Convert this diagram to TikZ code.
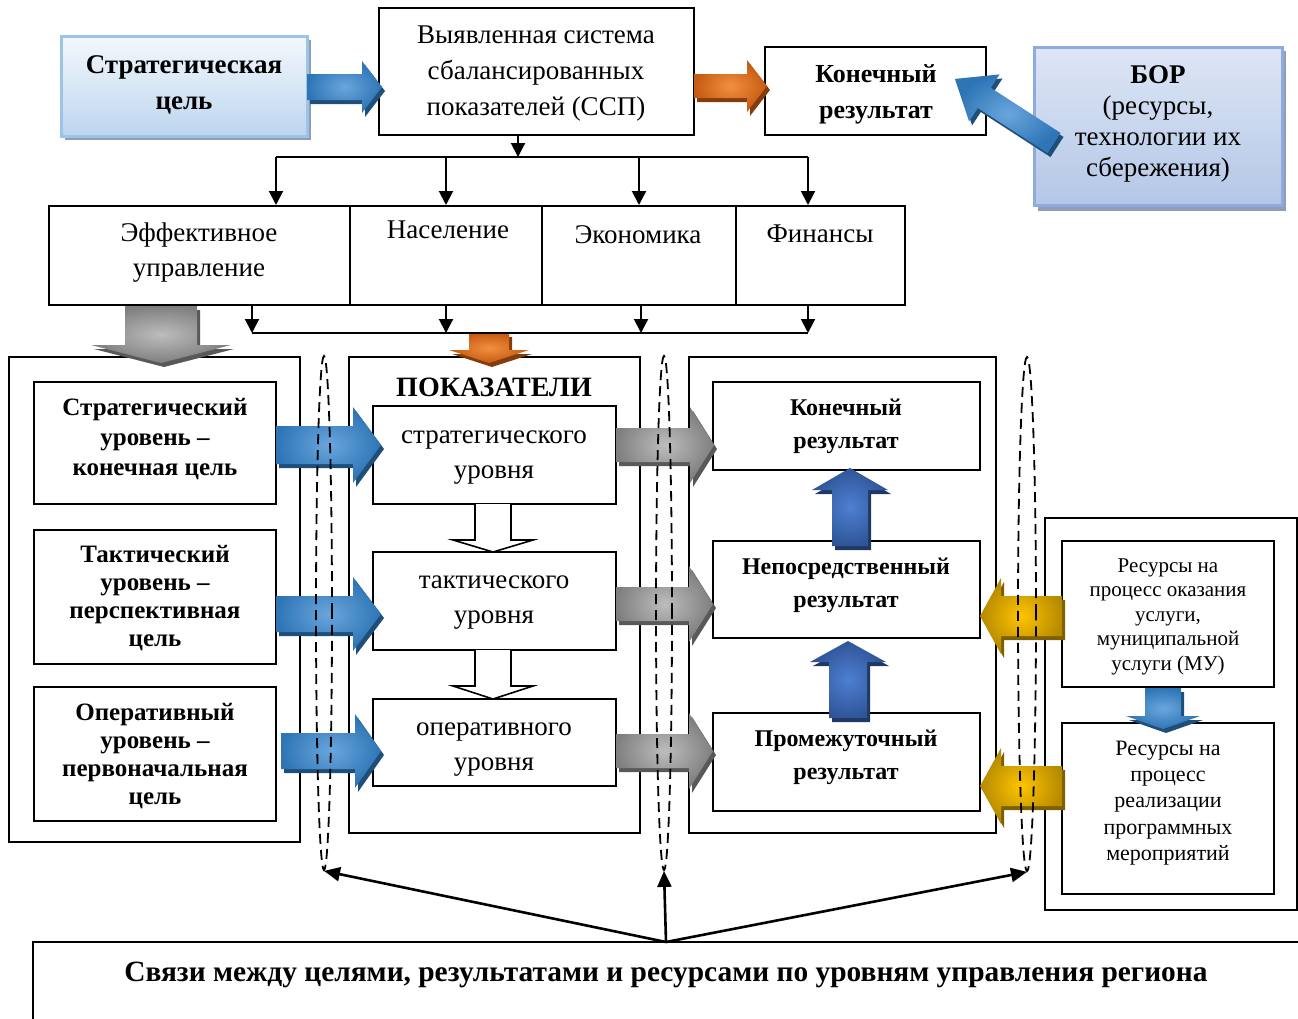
\documentclass[tikz,border=0pt]{standalone}
\usepackage{fontspec}
\setmainfont{Liberation Serif}
\usetikzlibrary{arrows.meta,shapes.geometric}

\definecolor{blueA}{HTML}{2E75B6}
\definecolor{blueB}{HTML}{6AA6DD}
\definecolor{blueS}{HTML}{1F4E79}
\definecolor{orangeA}{HTML}{C55A11}
\definecolor{orangeB}{HTML}{F2903F}
\definecolor{orangeS}{HTML}{843C0C}
\definecolor{grayA}{HTML}{7F7F7F}
\definecolor{grayB}{HTML}{BDBDBD}
\definecolor{grayS}{HTML}{595959}
\definecolor{goldA}{HTML}{B58A00}
\definecolor{goldB}{HTML}{FFC400}
\definecolor{goldS}{HTML}{7F6000}
\definecolor{navyA}{HTML}{2F5597}
\definecolor{navyB}{HTML}{4E7FD3}
\definecolor{navyS}{HTML}{203864}
\definecolor{paleTop}{HTML}{F4F8FD}
\definecolor{paleBot}{HTML}{BDD5EE}
\definecolor{paleLine}{HTML}{9DC3E6}
\definecolor{borTop}{HTML}{DDE6F5}
\definecolor{borBot}{HTML}{B4C7E7}
\definecolor{borLine}{HTML}{8FAADC}
\definecolor{dropsh}{HTML}{8E9DB8}

% block arrow: shade style, shadow colour, tail, angle, length, head length, shaft half width, head half width
\newcommand{\blockarrow}[8]{%
  \begin{scope}[shift={#3}]
    \fill[#2, shift={(3,4)}, rotate=#4] (0,-#7) -- (#5-#6,-#7) -- (#5-#6,-#8) -- (#5,0) -- (#5-#6,#8) -- (#5-#6,#7) -- (0,#7) -- cycle;
    \shade[#1, rotate=#4] (0,-#7) -- (#5-#6,-#7) -- (#5-#6,-#8) -- (#5,0) -- (#5-#6,#8) -- (#5-#6,#7) -- (0,#7) -- cycle;
  \end{scope}}

\begin{document}
\begin{tikzpicture}[x=1pt,y=1pt,yscale=-1,xscale=1,
  box/.style={draw, line width=2pt, inner sep=0pt},
  colframe/.style={draw, line width=1.6pt, inner sep=0pt},
  lbl/.style={align=center, inner sep=0pt},
  reg/.style={lbl, font=\fontsize{27}{35}\selectfont},
  bld/.style={lbl, font=\bfseries\fontsize{26}{36}\selectfont},
  conn/.style={line width=2pt, -{Triangle[length=14pt,width=14pt]}},
  link/.style={line width=2.6pt, -{Triangle[length=16pt,width=14pt]}},
  ring/.style={draw, ellipse, dash pattern=on 10pt off 6pt, line width=1.8pt, inner sep=0pt, minimum width=16pt, minimum height=514pt},
  hollow/.style={draw, line width=1.6pt, fill=white},
  blueshade/.style={inner color=blueB, outer color=blueA},
  orangeshade/.style={inner color=orangeB, outer color=orangeA},
  grayshade/.style={inner color=grayB, outer color=grayA},
  goldshade/.style={inner color=goldB, outer color=goldA},
  navyshade/.style={inner color=navyB, outer color=navyA}]
\useasboundingbox (0,0) rectangle (1298,1018);

%Shape: Rectangle (top row)
\fill[dropsh] (65,40) rectangle (311,140);
\node[box, draw=paleLine, line width=3pt, top color=paleTop, bottom color=paleBot, minimum width=246pt, minimum height=100pt] (goal) at (184,86) {};
\node[box, minimum width=315pt, minimum height=127pt] (ssp) at (536.5,71.5) {};
\node[box, minimum width=221pt, minimum height=88pt] (finTop) at (875.5,91) {};
\fill[dropsh] (1038,51) rectangle (1286,211);
\node[box, draw=borLine, line width=3pt, top color=borTop, bottom color=borBot, minimum width=248pt, minimum height=158pt] (bor) at (1158,126) {};

%Shape: Rectangle (four areas)
\node[box, minimum width=301pt, minimum height=99pt] (eff) at (199.5,255.5) {};
\node[box, minimum width=192pt, minimum height=99pt] (pop) at (446,255.5) {};
\node[box, minimum width=194pt, minimum height=99pt] (econ) at (639,255.5) {};
\node[box, minimum width=169pt, minimum height=99pt] (fins) at (820.5,255.5) {};

%Shape: Rectangle (columns)
\node[colframe, minimum width=291pt, minimum height=485pt] (goalCol) at (154.5,599.5) {};
\node[colframe, minimum width=291pt, minimum height=476pt] (indCol) at (494.5,595) {};
\node[colframe, minimum width=307pt, minimum height=476pt] (resCol) at (842.5,595) {};
\node[colframe, minimum width=252pt, minimum height=392pt] (rsrcCol) at (1171,714) {};

\node[box, minimum width=242pt, minimum height=122pt] (lvlS) at (155,443) {};
\node[box, minimum width=242pt, minimum height=134pt] (lvlT) at (155,597) {};
\node[box, minimum width=242pt, minimum height=134pt] (lvlO) at (155,754) {};

\node[box, minimum width=243pt, minimum height=98pt] (indS) at (494.5,455) {};
\node[box, minimum width=243pt, minimum height=98pt] (indT) at (494.5,601) {};
\node[box, minimum width=243pt, minimum height=87pt] (indO) at (494.5,742.5) {};

\node[box, minimum width=267pt, minimum height=88pt] (resF) at (846.5,426) {};
\node[box, minimum width=267pt, minimum height=97pt] (resI) at (846.5,589.5) {};
\node[box, minimum width=267pt, minimum height=98pt] (resM) at (846.5,762) {};

\node[box, minimum width=212pt, minimum height=146pt] (rsrcA) at (1168,614) {};
\node[box, minimum width=212pt, minimum height=171pt] (rsrcB) at (1168,808.5) {};

\node[box, minimum width=1297pt, minimum height=108pt] (links) at (681.5,996) {};

% Text Node
\node[bld, font=\bfseries\fontsize{27}{36}\selectfont] (goalTxt) at (184,85) {Стратегическая\\цель};
\node[reg, font=\fontsize{27}{36}\selectfont] (sspTxt) at (536,74) {Выявленная система\\сбалансированных\\показателей (ССП)};
\node[bld] (finTopTxt) at (876,94) {Конечный\\результат};
\node[lbl, font=\fontsize{27}{31}\selectfont] (borTxt) at (1158,124) {\textbf{БОР}\\(ресурсы,\\технологии их\\сбережения)};
\node[reg] (effTxt) at (199,253) {Эффективное\\управление};
\node[reg] (popTxt) at (448,230) {Население};
\node[reg] (econTxt) at (638,235) {Экономика};
\node[reg] (finsTxt) at (820,234) {Финансы};
\node[lbl, font=\bfseries\fontsize{28}{34}\selectfont] (indHead) at (494,387) {ПОКАЗАТЕЛИ};
\node[bld, font=\bfseries\fontsize{25}{30}\selectfont] (lvlSTxt) at (155,439) {Стратегический\\уровень –\\конечная цель};
\node[bld, font=\bfseries\fontsize{25}{28}\selectfont] (lvlTTxt) at (155,598) {Тактический\\уровень –\\перспективная\\цель};
\node[bld, font=\bfseries\fontsize{25}{28}\selectfont] (lvlOTxt) at (155,756) {Оперативный\\уровень –\\первоначальная\\цель};
\node[reg] (indSTxt) at (494,458) {стратегического\\уровня};
\node[reg] (indTTxt) at (494,603) {тактического\\уровня};
\node[reg] (indOTxt) at (494,750) {оперативного\\уровня};
\node[bld, font=\bfseries\fontsize{24}{33}\selectfont] (resFTxt) at (846,426) {Конечный\\результат};
\node[bld, font=\bfseries\fontsize{24}{33}\selectfont] (resITxt) at (846,585) {Непосредственный\\результат};
\node[bld, font=\bfseries\fontsize{24}{33}\selectfont] (resMTxt) at (846,757) {Промежуточный\\результат};
\node[lbl, font=\fontsize{21}{24.5}\selectfont] (rsrcATxt) at (1168,616.5) {Ресурсы на\\процесс оказания\\услуги,\\муниципальной\\услуги (МУ)};
\node[lbl, font=\fontsize{22}{26.3}\selectfont] (rsrcBTxt) at (1168,803) {Ресурсы на\\процесс\\реализации\\программных\\мероприятий};
\node[lbl, font=\bfseries\fontsize{29.4}{35}\selectfont] (linksTxt) at (666,975) {Связи между целями, результатами и ресурсами по уровням управления региона};

%Right Arrow
\blockarrow{blueshade}{blueS}{(307,87)}{0}{75}{20}{13}{26}
\blockarrow{orangeshade}{orangeS}{(694,86)}{0}{73}{20}{12}{26}
\blockarrow{blueshade}{blueS}{(1054,143)}{212.9}{118}{35}{12}{28}
\blockarrow{blueshade}{blueS}{(276,445)}{0}{105}{28}{19}{38}
\blockarrow{blueshade}{blueS}{(276,614)}{0}{105}{28}{18}{37}
\blockarrow{blueshade}{blueS}{(281,751)}{0}{100}{26}{18}{37}
\blockarrow{grayshade}{grayS}{(616,445)}{0}{98}{24}{17}{38}
\blockarrow{grayshade}{grayS}{(616,604)}{0}{97}{24}{17}{38}
\blockarrow{grayshade}{grayS}{(616,751)}{0}{97}{24}{17}{38}
%Left Arrow
\blockarrow{goldshade}{goldS}{(1062,616)}{180}{82}{21}{20}{38}
\blockarrow{goldshade}{goldS}{(1062,786)}{180}{82}{21}{20}{38}
%Up Arrow
\blockarrow{navyshade}{navyS}{(850,546)}{-90}{78}{22}{18}{38}
\blockarrow{navyshade}{navyS}{(848,718)}{-90}{77}{21}{19}{38}
%Down Arrow
\blockarrow{grayshade}{grayS}{(161,306)}{90}{57}{18}{36}{70}
\blockarrow{orangeshade}{orangeS}{(489,333)}{90}{30}{13}{20}{40}
\blockarrow{blueshade}{blueS}{(1163,688)}{90}{41}{13}{18}{37}
\draw[hollow] (475,504) -- (475,540) -- (453,540) -- (493,552) -- (533,540) -- (511,540) -- (511,504);
\draw[hollow] (475,650) -- (475,686) -- (453,686) -- (493,699) -- (533,686) -- (511,686) -- (511,650);

%Straight Lines
\coordinate (brM) at (518,157);
\coordinate (brA) at (276,157);
\coordinate (brB) at (446,157);
\coordinate (brC) at (639,157);
\coordinate (brD) at (808,157);
\draw[conn] (ssp.south -| brM) -- (brM);
\draw[line width=2pt] (brA) -- (brD);
\draw[conn] (brA) -- (brA |- eff.north);
\draw[conn] (brB) -- (brB |- pop.north);
\draw[conn] (brC) -- (brC |- econ.north);
\draw[conn] (brD) -- (brD |- fins.north);

\coordinate (jnA) at (252,333);
\coordinate (jnB) at (446,333);
\coordinate (jnC) at (641,333);
\coordinate (jnD) at (808,333);
\draw[conn] (jnA |- eff.south) -- (jnA);
\draw[conn] (jnB |- pop.south) -- (jnB);
\draw[conn] (jnC |- econ.south) -- (jnC);
\draw[conn] (jnD |- fins.south) -- (jnD);
\draw[line width=2pt] (jnA) -- (jnD);

%Shape: Ellipse
\node[ring] (ringA) at (324,613) {};
\node[ring] (ringB) at (664,613) {};
\node[ring, minimum width=18pt] (ringC) at (1027,614) {};

\coordinate (hub) at (666,942);
\draw[link] (hub) -- (ringA.south);
\draw[link] (hub) -- (ringB.south);
\draw[link] (hub) -- (ringC.south);

\end{tikzpicture}
\end{document}
